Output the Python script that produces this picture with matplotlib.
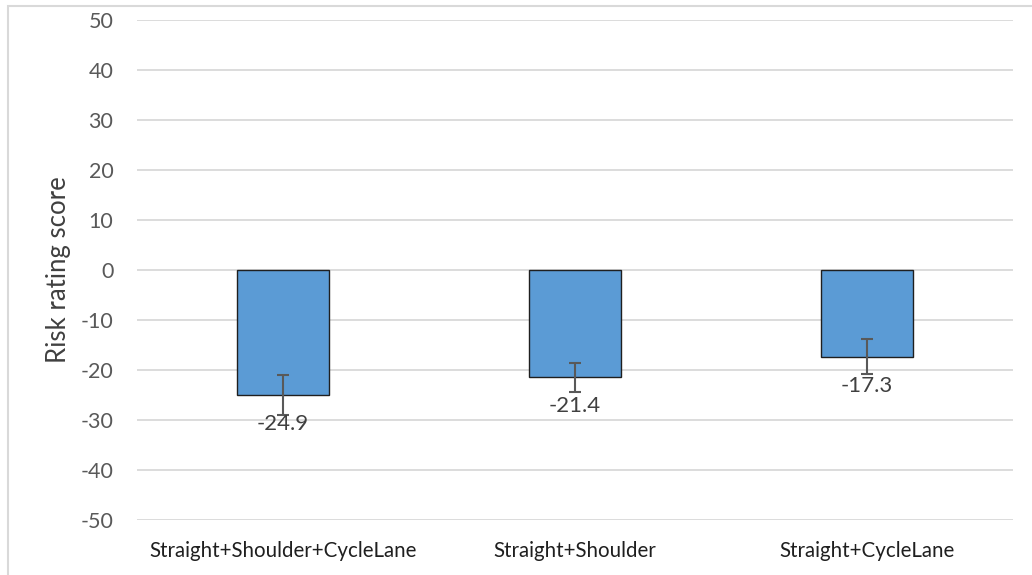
import matplotlib
matplotlib.use("Agg")
import matplotlib.pyplot as plt
from matplotlib.patches import Rectangle

categories = ["Straight+Shoulder+CycleLane", "Straight+Shoulder", "Straight+CycleLane"]
scores = [-24.9, -21.4, -17.3]
errors = [4.0, 2.9, 3.55]
y_ticks = [50, 40, 30, 20, 10, 0, -10, -20, -30, -40, -50]

plt.rcParams["font.family"] = ["Lato", "DejaVu Sans"]

W, H = 1032, 575
fig = plt.figure(figsize=(W / 100, H / 100), dpi=100)

# light chart-area frame
fig.patches.append(Rectangle((8 / W, -0.1), 1.2, (H - 6) / H + 0.1,
                             transform=fig.transFigure, fill=False,
                             edgecolor="#D9D9D9", linewidth=1.5, zorder=0))

ax = fig.add_axes([137 / W, 1 - 520 / H, (1013 - 137) / W, 500 / H])

x = list(range(len(categories)))
ax.bar(x, scores, width=0.312, color="#5B9BD5", edgecolor="#1F1F1F",
       linewidth=1.0, zorder=2)
ax.errorbar(x, scores, yerr=errors, fmt="none", ecolor="#595959",
            elinewidth=1.5, capsize=4.5, capthick=1.5, zorder=3)

for xi, v in zip(x, scores):
    ax.annotate(f"{v:.1f}", (xi, v), xytext=(0, -25.5), textcoords="offset points",
                ha="center", va="baseline", fontsize=16, color="#404040", zorder=4)

ax.set_xlim(-0.5, 2.5)
ax.set_ylim(-50, 50)
ax.set_yticks(y_ticks)
ax.set_yticklabels([str(t) for t in y_ticks])
ax.set_xticks(x)
ax.set_xticklabels(categories)
ax.tick_params(axis="y", length=0, pad=17, labelsize=15.5, labelcolor="#595959")
ax.tick_params(axis="x", length=0, pad=15, labelsize=14.8, labelcolor="#1F1F1F")
ax.grid(axis="y", color="#D9D9D9", linewidth=1.3, zorder=0)
ax.set_axisbelow(True)
for s in ax.spines.values():
    s.set_visible(False)

ax.set_ylabel("Risk rating score", fontsize=18.5, color="#404040", labelpad=7)

fig.savefig("out.png", dpi=100)
